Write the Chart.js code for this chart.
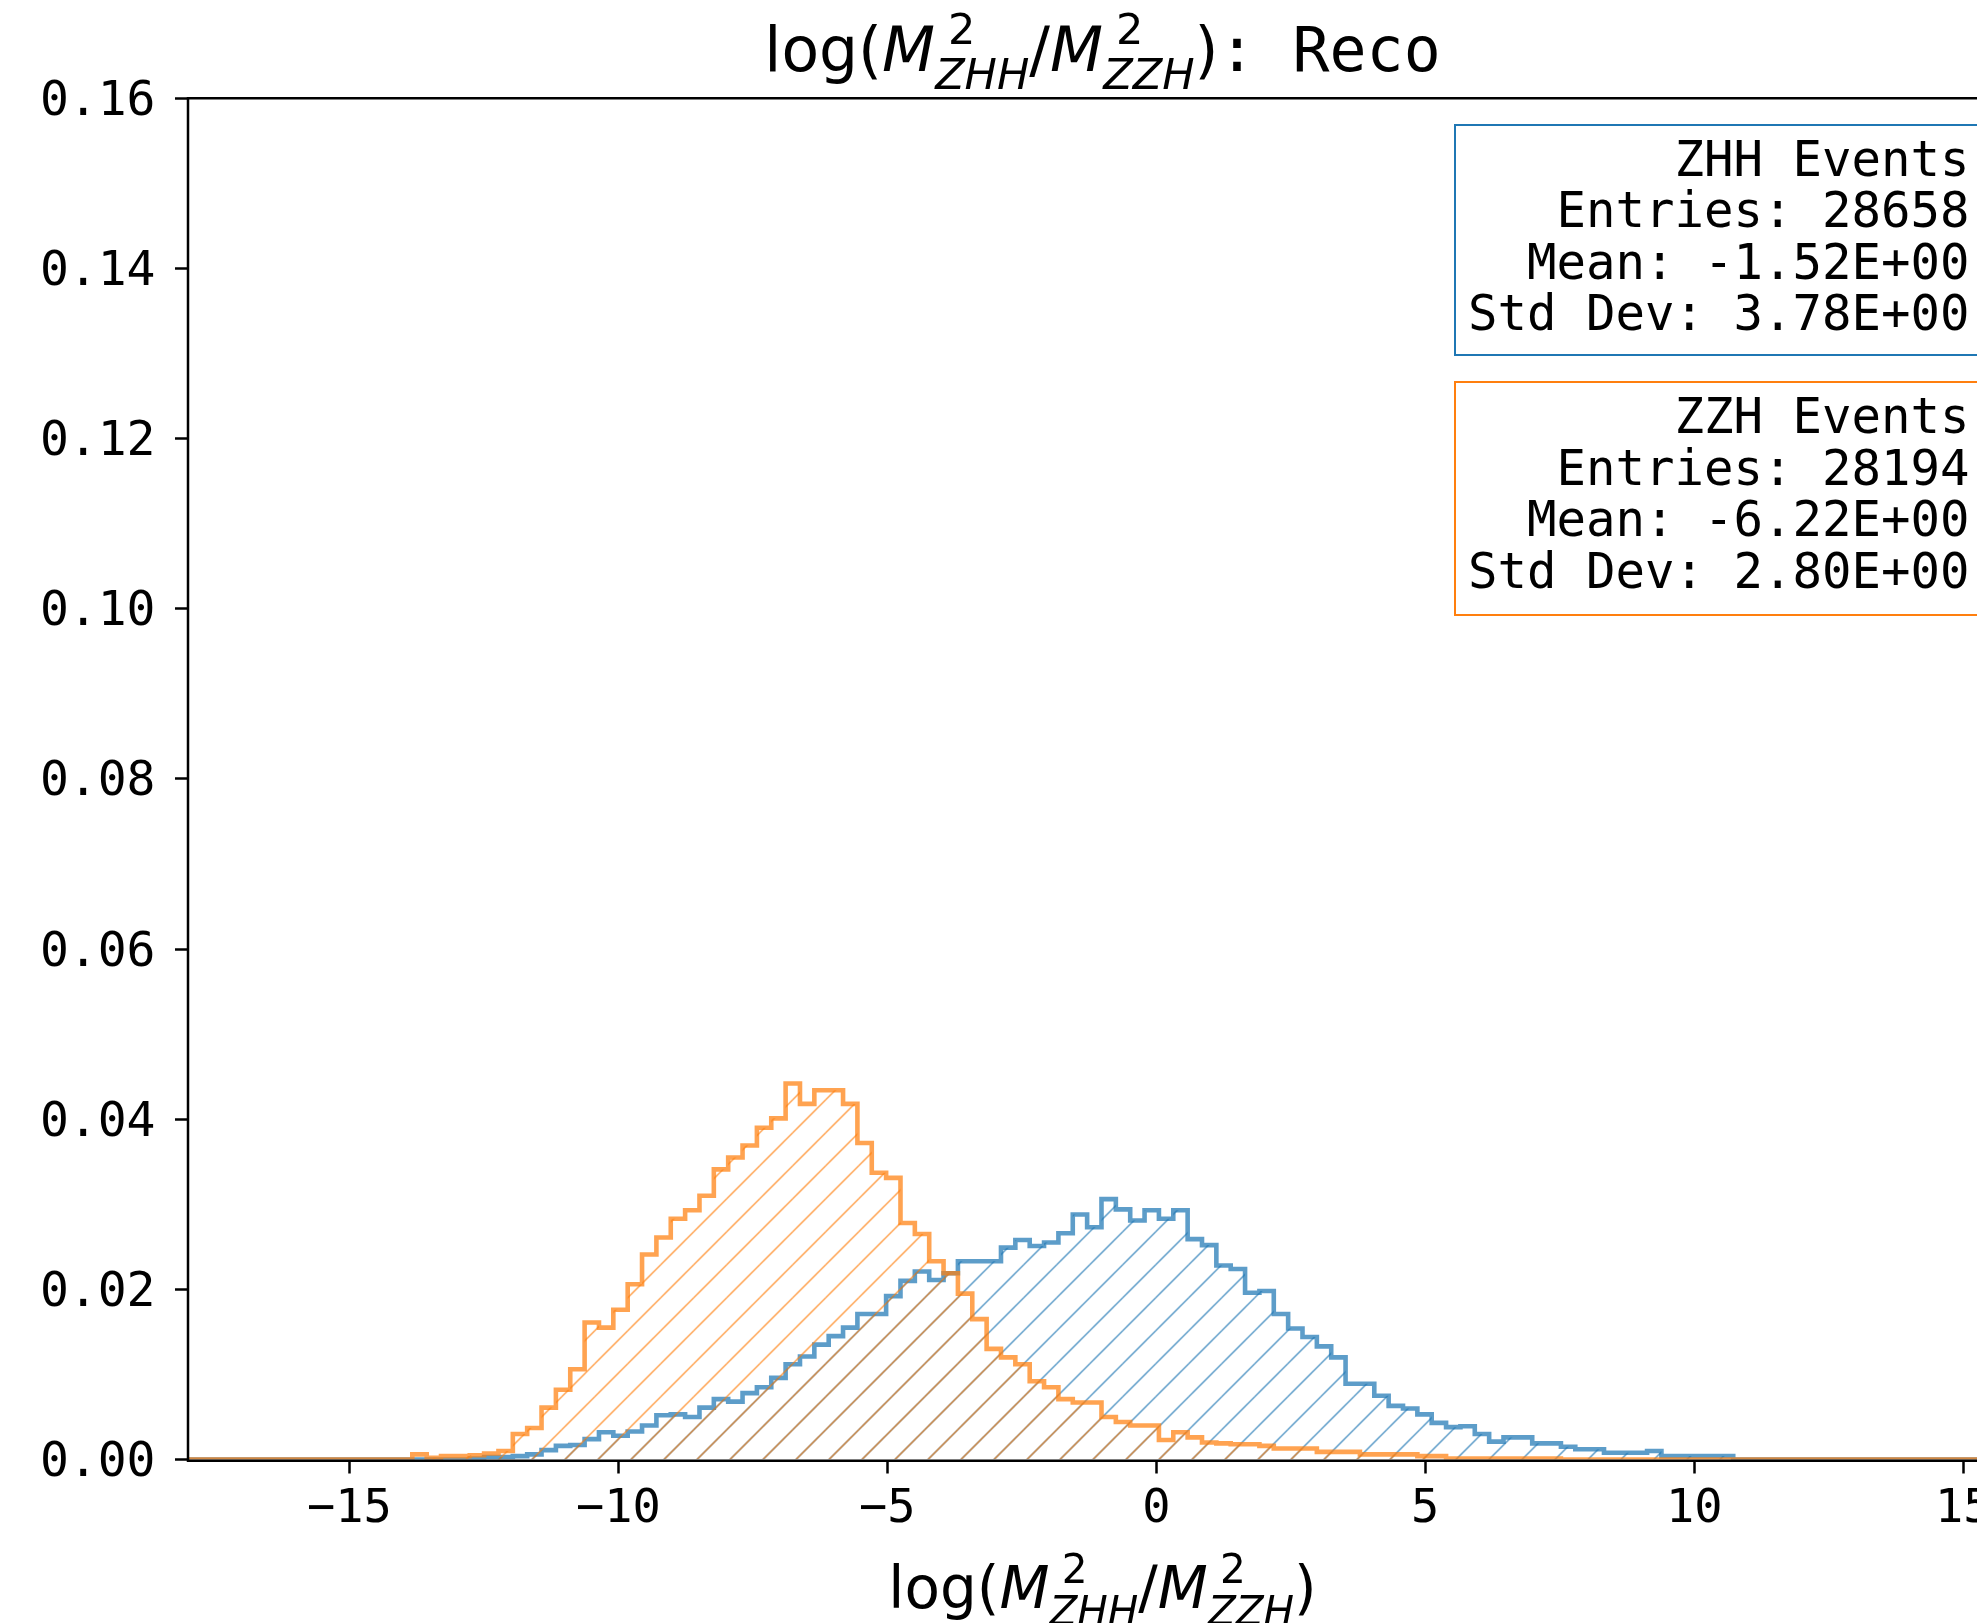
<!DOCTYPE html>
<html>
<head>
<meta charset="utf-8">
<script src="https://cdn.jsdelivr.net/npm/chart.js@4.4.1/dist/chart.umd.min.js"></script>
<style>
html, body { margin:0; padding:0; background:#fff; overflow:hidden; width:1977px; height:1623px; }
#wrap { position:relative; width:1977px; height:1623px; overflow:hidden; background:#fff; }
#chart { position:absolute; left:0; top:0; }
.mathlabel { position:absolute; white-space:nowrap; font-family:'DejaVu Sans'; color:#000; transform:translateX(-50%); }
.it { font-style:italic; }
.sup { display:inline-block; width:0; font-size:0.7em; position:relative; top:-0.62em; left:0.3em; font-style:normal; }
.sub { display:inline-block; font-size:0.7em; position:relative; top:0.41em; font-style:italic; }
.mono { font-family:'DejaVu Sans Mono'; white-space:pre; }
.stat { position:absolute; box-sizing:border-box; background:#fff; font-family:'DejaVu Sans Mono'; font-size:49px; line-height:51.5px; text-align:right; white-space:pre; color:#000; border-style:solid; border-width:2.5px; }
</style>
</head>
<body>
<div id="wrap">
  <canvas id="chart" width="2060" height="1623"></canvas>
  <div id="title" class="mathlabel" style="left:1102.5px; top:20px; font-size:61.5px; line-height:61.5px;"><span>log(</span><span class="it">M</span><span class="sup">2</span><span class="sub">ZHH</span><span>/</span><span class="it">M</span><span class="sup">2</span><span class="sub">ZZH</span><span>)</span><span class="mono">: Reco</span></div>
  <div id="xlabel" class="mathlabel" style="left:1102.5px; top:1559px; font-size:58px; line-height:58px;"><span>log(</span><span class="it">M</span><span class="sup">2</span><span class="sub">ZHH</span><span>/</span><span class="it">M</span><span class="sup">2</span><span class="sub">ZZH</span><span>)</span></div>
  <div id="statZHH" class="stat" style="left:1454px; top:123.6px; width:560px; border-color:#1f77b4; padding:8px 42.5px 14.5px 10px;"></div>
  <div id="statZZH" class="stat" style="left:1454px; top:380.8px; width:560px; border-color:#ff7f0e; padding:8.5px 42.5px 16.5px 10px;"></div>
</div>
<script>
// ---- data ----
const binStart = -13.83;     // left edge of first listed bin
const binWidth = 0.2669;     // histogram bin width
const xRange = [-18, 16];
const yRange = [0, 0.16];
const xTicks = [-15, -10, -5, 0, 5, 10, 15];
const yTicks = [0, 0.02, 0.04, 0.06, 0.08, 0.10, 0.12, 0.14, 0.16];

const zhhValues = [
  0, 0, 0, 0, 0.0001, 0.0003, 0.0003, 0.0004, 0.0006, 0.0011,
  0.0016, 0.0017, 0.0024, 0.0032, 0.0028, 0.0033, 0.0040, 0.0052, 0.0053, 0.0050,
  0.0061, 0.0071, 0.0068, 0.0078, 0.0085, 0.0096, 0.0112, 0.0121, 0.0135, 0.0145,
  0.0155, 0.0171, 0.0171, 0.0192, 0.0210, 0.0221, 0.0211, 0.0219, 0.0233, 0.0233,
  0.0233, 0.0249, 0.0258, 0.0251, 0.0255, 0.0266, 0.0288, 0.0273, 0.0306, 0.0294,
  0.0281, 0.0293, 0.0283, 0.0293, 0.0259, 0.0252, 0.0228, 0.0224, 0.0196, 0.0198,
  0.0171, 0.0154, 0.0144, 0.0133, 0.0120, 0.0089, 0.0089, 0.0075, 0.0063, 0.0060,
  0.0053, 0.0043, 0.0038, 0.0039, 0.0030, 0.0021, 0.0026, 0.0026, 0.0019, 0.0019,
  0.0015, 0.0012, 0.0012, 0.0008, 0.0008, 0.0008, 0.0010, 0.0004, 0.0004, 0.0004,
  0.0004, 0.0004
];
const zzhValues = [
  0.0006, 0.0002, 0.0004, 0.0004, 0.0005, 0.0007, 0.0010, 0.0030, 0.0037, 0.0061,
  0.0082, 0.0106, 0.0161, 0.0155, 0.0176, 0.0206, 0.0241, 0.0261, 0.0283, 0.0293,
  0.0310, 0.0341, 0.0355, 0.0369, 0.0390, 0.0401, 0.0442, 0.0418, 0.0434, 0.0434,
  0.0418, 0.0372, 0.0337, 0.0331, 0.0278, 0.0265, 0.0233, 0.0219, 0.0195, 0.0165,
  0.0130, 0.0120, 0.0112, 0.0092, 0.0085, 0.0071, 0.0067, 0.0067, 0.0050, 0.0044,
  0.0040, 0.0040, 0.0023, 0.0032, 0.0026, 0.0020, 0.0019, 0.0018, 0.0018, 0.0016,
  0.0013, 0.0013, 0.0013, 0.0009, 0.0009, 0.0009, 0.0006, 0.0006, 0.0006, 0.0006,
  0.0004, 0.0004, 0.0001, 0.0001, 0.0001, 0.0001, 0.0001, 0.0001, 0.0001, 0.0001,
  0, 0, 0, 0, 0, 0, 0, 0, 0, 0,
  0, 0
];
const zhhStats = ['ZHH Events', 'Entries: 28658', 'Mean: -1.52E+00', 'Std Dev: 3.78E+00'];
const zzhStats = ['ZZH Events', 'Entries: 28194', 'Mean: -6.22E+00', 'Std Dev: 2.80E+00'];

// ---- build ----
document.getElementById('statZHH').textContent = zhhStats.join('\n');
document.getElementById('statZZH').textContent = zzhStats.join('\n');

function stepPoints(values) {
  const pts = [{x: xRange[0], y: 0}];
  values.forEach((v, i) => pts.push({x: binStart + i * binWidth, y: v}));
  pts.push({x: binStart + values.length * binWidth, y: 0});
  pts.push({x: xRange[1], y: 0});
  return pts;
}

function makeHatch(color, S, c, lw) {
  const t = document.createElement('canvas');
  t.width = S; t.height = S;
  const g = t.getContext('2d');
  g.strokeStyle = color; g.lineWidth = lw;
  for (let k = -2; k <= 3; k++) {
    const v = c + k * S;
    g.beginPath();
    g.moveTo(v + S, -S);
    g.lineTo(v - 2 * S, 2 * S);
    g.stroke();
  }
  return document.getElementById('chart').getContext('2d').createPattern(t, 'repeat');
}

const blueHatch = makeHatch('rgba(31,119,180,0.58)', 33, 11.5, 1.9);
const orangeHatch = makeHatch('rgba(255,127,14,0.58)', 33, 11.5, 1.9);

const framePlugin = {
  id: 'frame',
  afterDraw(chart) {
    const {ctx, chartArea: a} = chart;
    const lw = 2.5;
    ctx.save();
    ctx.strokeStyle = '#000';
    ctx.lineWidth = lw;
    ctx.beginPath();
    ctx.moveTo(a.left, a.top); ctx.lineTo(a.right, a.top);
    ctx.moveTo(a.left, a.top - lw / 2); ctx.lineTo(a.left, a.bottom + lw);
    ctx.moveTo(a.left - lw / 2, a.bottom + lw / 2); ctx.lineTo(a.right, a.bottom + lw / 2);
    ctx.stroke();
    ctx.restore();
  }
};

new Chart(document.getElementById('chart'), {
  type: 'line',
  data: {
    datasets: [
      {
        label: 'ZHH Events',
        data: stepPoints(zhhValues),
        stepped: 'before',
        borderColor: 'rgba(31,119,180,0.72)',
        backgroundColor: blueHatch,
        borderWidth: 4.6,
        fill: 'origin',
        pointRadius: 0,
        clip: 0,
        order: 2
      },
      {
        label: 'ZZH Events',
        data: stepPoints(zzhValues),
        stepped: 'before',
        borderColor: 'rgba(255,127,14,0.72)',
        backgroundColor: orangeHatch,
        borderWidth: 4.6,
        fill: 'origin',
        pointRadius: 0,
        clip: 0,
        order: 1
      }
    ]
  },
  options: {
    responsive: false,
    animation: false,
    devicePixelRatio: 1,
    layout: {padding: {left: 0, right: 43, top: 98.3, bottom: 0}},
    plugins: {legend: {display: false}, tooltip: {enabled: false}, title: {display: false}},
    scales: {
      x: {
        type: 'linear',
        min: xRange[0], max: xRange[1],
        afterBuildTicks: s => { s.ticks = xTicks.map(v => ({value: v})); },
        afterFit: s => { s.height = 163.5; },
        border: {display: false},
        grid: {display: true, drawOnChartArea: false, drawTicks: true, tickLength: 14, tickWidth: 2.5, tickColor: '#000'},
        ticks: {
          autoSkip: false, maxRotation: 0, padding: 8, color: '#000',
          font: {family: "'DejaVu Sans Mono'", size: 47},
          callback: v => (v < 0 ? '\u2212' + Math.abs(v) : String(v))
        }
      },
      y: {
        type: 'linear',
        min: yRange[0], max: yRange[1],
        afterBuildTicks: s => { s.ticks = yTicks.map(v => ({value: v})); },
        afterFit: s => { s.width = 188; },
        border: {display: false},
        grid: {display: true, drawOnChartArea: false, drawTicks: true, tickLength: 13, tickWidth: 2.5, tickColor: '#000'},
        ticks: {
          autoSkip: false, padding: 19.5, labelOffset: 4, color: '#000',
          font: {family: "'DejaVu Sans Mono'", size: 48},
          callback: v => Number(v).toFixed(2)
        }
      }
    }
  },
  plugins: [framePlugin]
});
</script>
</body>
</html>
